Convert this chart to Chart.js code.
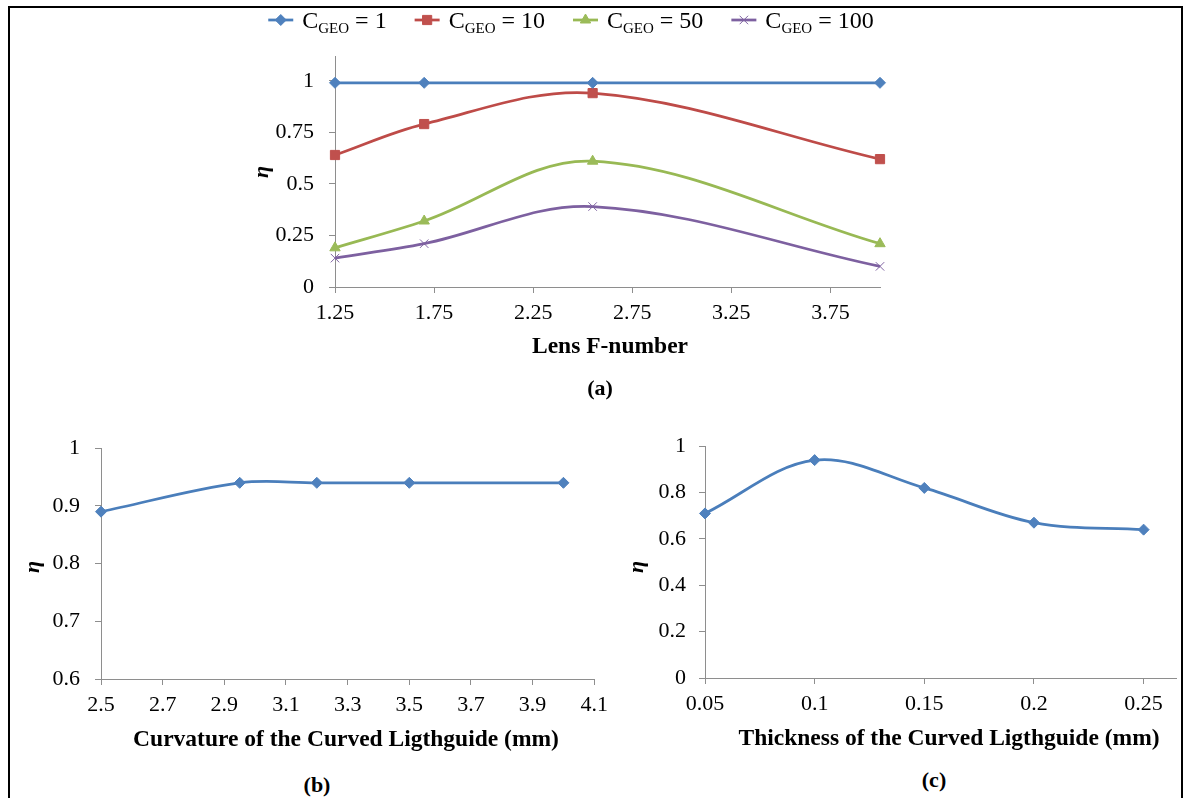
<!DOCTYPE html>
<html>
<head>
<meta charset="utf-8">
<script src="https://cdn.jsdelivr.net/npm/chart.js@4.4.1/dist/chart.umd.min.js"></script>
<style>
  html, body { margin: 0; padding: 0; background: #fff; }
  body { width: 1185px; height: 798px; position: relative; overflow: hidden;
         font-family: 'Liberation Serif', 'Times New Roman', serif; color: #000; }
  canvas { position: absolute; }
  .t { position: absolute; transform: translate(-50%, -50%); white-space: nowrap; }
  .ttl { font-weight: bold; font-size: 23.5px; }
  .tag { font-weight: bold; font-size: 22px; }
  .eta { font-weight: bold; font-style: italic; font-size: 22px;
         transform: translate(-50%, -50%) rotate(-90deg); }
  .frame { position: absolute; left: 8px; top: 6px; width: 1171px; height: 830px;
           border: 2px solid #000; pointer-events: none; }
</style>
</head>
<body>
<canvas id="chartA" width="700" height="345" style="left:200px;top:0px"></canvas>
<canvas id="chartB" width="615" height="320" style="left:0px;top:420px"></canvas>
<canvas id="chartC" width="563" height="322" style="left:620px;top:420px"></canvas>

<div class="t eta" style="left:261px;top:172px">η</div>
<div class="t ttl" style="left:610px;top:345px">Lens F-number</div>
<div class="t tag" style="left:600px;top:388px">(a)</div>

<div class="t eta" style="left:32px;top:567px">η</div>
<div class="t ttl" style="left:346px;top:738px">Curvature of the Curved Ligthguide (mm)</div>
<div class="t tag" style="left:317px;top:785px">(b)</div>

<div class="t eta" style="left:636px;top:567px">η</div>
<div class="t ttl" style="left:949px;top:737px">Thickness of the Curved Ligthguide (mm)</div>
<div class="t tag" style="left:934px;top:780px">(c)</div>

<div class="frame"></div>

<script>
// ---- data: efficiency vs. lens F-number for several geometric concentrations ----
const fNumbers   = [1.25, 1.7, 2.55, 4.0];
const geoRatios  = [1, 10, 50, 100];
const etaGeo1    = [0.99, 0.99, 0.99, 0.99];
const etaGeo10   = [0.64, 0.79, 0.94, 0.62];
const etaGeo50   = [0.19, 0.32, 0.61, 0.21];
const etaGeo100  = [0.14, 0.21, 0.39, 0.10];
const fNumberTicks = [1.25, 1.75, 2.25, 2.75, 3.25, 3.75];
const etaTicksA    = [0, 0.25, 0.5, 0.75, 1];

// ---- data: efficiency vs. curvature of the lightguide ----
const curvatures     = [2.5, 2.95, 3.2, 3.5, 4.0];
const etaCurvature   = [0.89, 0.94, 0.94, 0.94, 0.94];
const curvatureTicks = [2.5, 2.7, 2.9, 3.1, 3.3, 3.5, 3.7, 3.9, 4.1];
const etaTicksB      = [0.6, 0.7, 0.8, 0.9, 1];

// ---- data: efficiency vs. thickness of the lightguide ----
const thicknesses    = [0.05, 0.1, 0.15, 0.2, 0.25];
const etaThickness   = [0.71, 0.94, 0.82, 0.67, 0.64];
const thicknessTicks = [0.05, 0.1, 0.15, 0.2, 0.25];
const etaTicksC      = [0, 0.2, 0.4, 0.6, 0.8, 1];

const SERIF = "'Liberation Serif', 'Times New Roman', serif";
const AXIS = '#8e8e8e';
const TENSION = 0.35;

Chart.defaults.font.family = SERIF;
Chart.defaults.font.size = 22;
Chart.defaults.color = '#000';

const pts = (xs, ys) => xs.map((x, i) => ({ x, y: ys[i] }));

function axis(o) {
  return {
    type: 'linear',
    min: o.min,
    max: o.max,
    afterBuildTicks: s => { s.ticks = o.ticks.map(v => ({ value: v })); },
    afterFit: s => { if (s.isHorizontal()) s.height = o.size; else s.width = o.size; },
    grid: { drawOnChartArea: false, drawTicks: true, tickLength: 6, color: AXIS, lineWidth: 1 },
    border: { display: true, color: AXIS, width: 1 },
    ticks: {
      color: '#000', padding: o.pad, autoSkip: false, maxRotation: 0, minRotation: 0,
      font: { family: SERIF, size: 22 },
      callback: v => String(v)
    }
  };
}

function series(data, line, fill, style, radius) {
  return {
    data, borderColor: line, backgroundColor: fill, borderWidth: 2.75,
    pointStyle: style, pointRadius: radius, pointHoverRadius: radius,
    pointBorderWidth: 1, pointBackgroundColor: fill, pointBorderColor: fill,
    tension: TENSION, fill: false, clip: false
  };
}

// Legend with subscripted labels "C_GEO = n", drawn from the dataset styles
const geoLegend = {
  id: 'geoLegend',
  afterDraw(chart, args, o) {
    const ctx = chart.ctx;
    ctx.save();
    const main = o.size + 'px ' + SERIF, sub = o.subSize + 'px ' + SERIF;
    const items = chart.data.datasets.map((ds, i) => {
      ctx.font = main;
      const wC = ctx.measureText('C').width;
      const tail = ' = ' + geoRatios[i];
      const wTail = ctx.measureText(tail).width;
      ctx.font = sub;
      const wSub = ctx.measureText('GEO').width;
      return { ds, tail, wC, wSub, wTail, w: o.line + o.gap + wC + wSub + wTail };
    });
    const total = items.reduce((a, it) => a + it.w, 0) + o.itemGap * (items.length - 1);
    let x = o.cx - total / 2;
    const y = o.y;
    items.forEach(it => {
      const ds = it.ds;
      ctx.strokeStyle = ds.borderColor;
      ctx.lineWidth = ds.borderWidth;
      ctx.beginPath();
      ctx.moveTo(x, y);
      ctx.lineTo(x + o.line, y);
      ctx.stroke();
      ctx.fillStyle = ds.pointBackgroundColor;
      ctx.strokeStyle = ds.pointBorderColor;
      ctx.lineWidth = ds.pointBorderWidth;
      Chart.helpers.drawPoint(ctx, {
        pointStyle: ds.pointStyle, radius: ds.pointRadius,
        borderWidth: ds.pointBorderWidth, rotation: 0
      }, x + o.line / 2, y);
      let tx = x + o.line + o.gap;
      ctx.fillStyle = '#000';
      ctx.textBaseline = 'alphabetic';
      ctx.textAlign = 'left';
      const base = y + o.size * 0.33;
      ctx.font = main;
      ctx.fillText('C', tx, base);
      tx += it.wC;
      ctx.font = sub;
      ctx.fillText('GEO', tx, base + o.subDrop);
      tx += it.wSub;
      ctx.font = main;
      ctx.fillText(it.tail, tx, base);
      x += it.w + o.itemGap;
    });
    ctx.restore();
  }
};

const common = {
  responsive: false,
  animation: false,
  events: [],
  plugins: { legend: { display: false }, tooltip: { enabled: false } }
};

new Chart(document.getElementById('chartA'), {
  type: 'line',
  data: {
    datasets: [
      series(pts(fNumbers, etaGeo1),   '#4A7EBB', '#4F81BD', 'rectRot', 5.5),
      series(pts(fNumbers, etaGeo10),  '#BE4B48', '#C0504D', 'rect', 6.5),
      series(pts(fNumbers, etaGeo50),  '#98B954', '#9BBB59', 'triangle', 6),
      series(pts(fNumbers, etaGeo100), '#7D60A0', '#8064A2', 'crossRot', 6)
    ]
  },
  options: {
    ...common,
    layout: { padding: { left: 0, right: 20, top: 56, bottom: 0 } },
    scales: {
      x: axis({ min: 1.25, max: 4.0, ticks: fNumberTicks, size: 58, pad: 7 }),
      y: axis({ min: 0, max: 1.12, ticks: etaTicksA, size: 135, pad: 15 })
    },
    plugins: {
      ...common.plugins,
      geoLegend: { cx: 571 - 200, y: 20, size: 24, subSize: 15, subDrop: 5, line: 25, gap: 9, itemGap: 28 }
    }
  },
  plugins: [geoLegend]
});

new Chart(document.getElementById('chartB'), {
  type: 'line',
  data: { datasets: [ series(pts(curvatures, etaCurvature), '#4A7EBB', '#4F81BD', 'rectRot', 5.5) ] },
  options: {
    ...common,
    layout: { padding: { left: 0, right: 20, top: 17, bottom: 0 } },
    scales: {
      x: axis({ min: 2.5, max: 4.1, ticks: curvatureTicks, size: 61, pad: 7 }),
      y: axis({ min: 0.6, max: 1.0, ticks: etaTicksB, size: 101, pad: 15 })
    }
  }
});

new Chart(document.getElementById('chartC'), {
  type: 'line',
  data: { datasets: [ series(pts(thicknesses, etaThickness), '#4A7EBB', '#4F81BD', 'rectRot', 5.5) ] },
  options: {
    ...common,
    layout: { padding: { left: 0, right: 0, top: 16, bottom: 0 } },
    scales: {
      x: axis({ min: 0.05, max: 0.265, ticks: thicknessTicks, size: 64, pad: 7 }),
      y: axis({ min: 0, max: 1.0, ticks: etaTicksC, size: 85, pad: 13 })
    }
  }
});
</script>
</body>
</html>
